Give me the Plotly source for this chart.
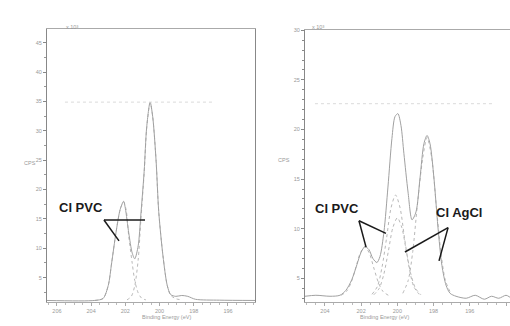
import plotly.graph_objects as go

# ---------------- data (binding energy eV, counts x10^3 CPS) ----------------
# Left panel
left_env_x = [206.6, 203.8, 203.3, 203.0, 202.8, 202.55, 202.3, 202.1, 202.0, 201.8, 201.6,
              201.45, 201.25, 201.1, 200.9, 200.75, 200.55, 200.4, 200.2, 200.05, 199.8,
              199.55, 199.35, 199.05, 198.7, 198.35, 197.9, 196.5, 194.4]
left_env_y = [1.1, 1.1, 1.45, 3.65, 7.5, 12.6, 16.65, 18.0, 16.8, 12.6, 9.2,
              8.2, 10.4, 15.5, 23.1, 30.7, 34.9, 32.4, 24.8, 16.3, 8.7,
              3.65, 2.1, 1.8, 1.95, 1.8, 1.3, 1.15, 1.1]
left_c1_x = [203.8, 203.3, 203.0, 202.8, 202.55, 202.3, 202.1, 201.95, 201.8, 201.6, 201.45, 201.25, 201.05, 200.8]
left_c1_y = [1.1, 1.45, 3.65, 7.5, 12.6, 16.6, 17.9, 16.5, 12.0, 7.5, 4.5, 2.4, 1.5, 1.2]
left_c2_x = [201.9, 201.65, 201.45, 201.25, 201.1, 200.9, 200.75, 200.55, 200.4, 200.2, 200.05, 199.8, 199.55, 199.35, 199.05, 198.7]
left_c2_y = [1.2, 1.8, 3.6, 8.0, 14.5, 22.8, 30.5, 34.8, 32.4, 24.8, 16.3, 8.7, 3.65, 2.0, 1.4, 1.2]

# Right panel
right_env_x = [205.1, 204.5, 203.72, 203.17, 202.84, 202.51, 202.23, 202.01, 201.79, 201.57, 201.35,
               201.13, 200.96, 200.74, 200.52, 200.30, 200.13, 199.97, 199.80, 199.64, 199.41,
               199.19, 198.97, 198.75, 198.53, 198.36, 198.20, 197.98, 197.76, 197.54, 197.31,
               197.09, 196.76, 196.2, 195.7, 195.2, 194.8, 194.4, 194.0, 193.78]
right_env_y = [3.2, 3.3, 3.2, 3.3, 3.8, 4.9, 6.4, 7.6, 8.2, 7.9, 7.0,
               6.6, 7.2, 9.7, 14.2, 19.1, 21.3, 21.6, 20.4, 17.6, 13.7,
               10.9, 11.7, 15.1, 18.6, 19.4, 18.6, 15.1, 10.2, 6.3, 4.3,
               3.5, 3.2, 3.0, 3.3, 2.9, 3.2, 3.0, 3.3, 3.1]
right_pvc1_x = [203.1, 202.8, 202.55, 202.3, 202.05, 201.8, 201.55, 201.3, 201.05, 200.8, 200.5]
right_pvc1_y = [3.3, 3.7, 4.6, 6.05, 7.55, 8.2, 7.55, 6.05, 4.6, 3.7, 3.3]
right_pvc2_x = [201.4, 201.1, 200.85, 200.6, 200.35, 200.1, 199.85, 199.6, 199.35, 199.1, 198.8]
right_pvc2_y = [3.4, 4.2, 6.1, 9.0, 12.1, 13.4, 12.1, 9.0, 6.1, 4.2, 3.4]
right_ag1_x = [201.3, 201.0, 200.75, 200.5, 200.25, 200.0, 199.75, 199.5, 199.25, 199.0, 198.7]
right_ag1_y = [3.35, 4.0, 5.4, 7.7, 10.1, 11.1, 10.1, 7.7, 5.4, 4.0, 3.35]
right_ag2_x = [199.7, 199.4, 199.15, 198.9, 198.6, 198.36, 198.1, 197.85, 197.6, 197.35, 197.05]
right_ag2_y = [3.5, 4.8, 7.7, 12.3, 17.1, 19.2, 17.1, 12.3, 7.7, 4.8, 3.5]

x_ticks_left = [206, 204, 202, 200, 198, 196]
x_ticks_right = [204, 202, 200, 198, 196, 194]
y_ticks_left = [5, 10, 15, 20, 25, 30, 35, 40, 45]
y_ticks_right = [5, 10, 15, 20, 25, 30]

ENV = "#a0a0a0"
COMP = "#b8b8b8"

fig = go.Figure()

def add_line(x, y, ax, dash=None, color=ENV, width=1):
    fig.add_trace(go.Scatter(x=x, y=y, mode="lines", xaxis=ax[0], yaxis=ax[1],
                             line=dict(color=color, width=width, dash=dash, shape="spline", smoothing=0.8),
                             showlegend=False, hoverinfo="skip"))

add_line(left_c1_x, left_c1_y, ("x", "y"), dash="dot", color=COMP)
add_line(left_c2_x, left_c2_y, ("x", "y"), dash="dot", color=COMP)
add_line(left_env_x, left_env_y, ("x", "y"))

for cx, cy in [(right_pvc1_x, right_pvc1_y), (right_pvc2_x, right_pvc2_y),
               (right_ag1_x, right_ag1_y), (right_ag2_x, right_ag2_y)]:
    add_line(cx, cy, ("x2", "y2"), dash="dot", color=COMP)
add_line(right_env_x, right_env_y, ("x2", "y2"))

W, H = 510, 326
def px(v):
    return v / W
def py(v):
    return 1 - v / H

tickfont = dict(size=5.5, color="#999", family="Liberation Sans")
xcommon = dict(showgrid=False, zeroline=False, showline=True, linecolor="#aaa", linewidth=1,
               ticks="outside", ticklen=3, tickcolor="#aaa", tickfont=tickfont,
               minor=dict(ticks="outside", ticklen=2, dtick=0.5, tickcolor="#bbb"))
ycommon = dict(showgrid=False, zeroline=False, showline=True, linecolor="#888", linewidth=1,
               ticks="outside", ticklen=3, tickcolor="#888", tickfont=tickfont)

fig.update_layout(
    width=W, height=H, margin=dict(l=0, r=0, t=0, b=0),
    paper_bgcolor="white", plot_bgcolor="white",
    xaxis=dict(domain=[px(47), px(255)], range=[206.58, 194.42], tickvals=x_ticks_left,
               mirror=True, anchor="y", **xcommon),
    yaxis=dict(domain=[py(302), py(26)], range=[0.8, 47.4], tickvals=y_ticks_left,
               mirror=True, anchor="x",
               minor=dict(ticks="outside", ticklen=2, dtick=2.5, tickcolor="#999"), **ycommon),
    xaxis2=dict(domain=[px(305), 1.0], range=[205.1, 193.78], tickvals=x_ticks_right,
                mirror=True, anchor="y2", **xcommon),
    yaxis2=dict(domain=[py(302), py(27)], range=[2.6, 30.05], tickvals=y_ticks_right,
                mirror=False, anchor="x2",
                minor=dict(ticks="outside", ticklen=2, dtick=1, tickcolor="#888"), **ycommon),
)

small = dict(size=5.5, color="#999", family="Liberation Sans")
ann = [
    dict(x=px(64), y=py(19), text="x 10³", xref="paper", yref="paper", showarrow=False, font=small),
    dict(x=px(318), y=py(19), text="x 10³", xref="paper", yref="paper", showarrow=False, font=small),
    dict(x=px(22), y=py(161), text="CPS", xref="paper", yref="paper", showarrow=False, font=small),
    dict(x=px(284), y=py(158), text="CPS", xref="paper", yref="paper", showarrow=False, font=small),
    dict(x=px(140), y=py(322), text="Binding Energy (eV)", xref="paper", yref="paper", showarrow=False, font=small),
    dict(x=px(411), y=py(322), text="Binding Energy (eV)", xref="paper", yref="paper", showarrow=False, font=small),
]
bold = dict(size=13, color="#1a1a1a", family="Liberation Sans")
ann += [
    dict(x=204.6, y=17.0, xref="x", yref="y", text="<b>Cl PVC</b>", showarrow=False, font=bold),
    dict(x=203.34, y=12.09, xref="x2", yref="y2", text="<b>Cl PVC</b>", showarrow=False, font=bold),
    dict(x=196.6, y=11.6, xref="x2", yref="y2", text="<b>Cl AgCl</b>", showarrow=False, font=bold),
]
fig.update_layout(annotations=ann)

shapes = []
lk = dict(color="#1a1a1a", width=1.5)
for (xr, yr, x0, y0, x1, y1) in [
    ("x", "y", 203.25, 14.8, 200.85, 14.8),
    ("x", "y", 203.25, 14.8, 202.37, 11.25),
    ("x2", "y2", 202.12, 10.81, 200.63, 9.53),
    ("x2", "y2", 202.12, 10.81, 201.73, 8.15),
    ("x2", "y2", 197.2, 10.12, 199.58, 7.66),
    ("x2", "y2", 197.2, 10.12, 197.7, 6.77),
]:
    shapes.append(dict(type="line", xref=xr, yref=yr, x0=x0, y0=y0, x1=x1, y1=y1, line=lk))
# faint dotted reference lines at peak maxima
shapes.append(dict(type="line", xref="x", yref="y", x0=205.53, x1=196.88, y0=34.9, y1=34.9,
                   line=dict(color="#dadada", width=1, dash="dot")))
shapes.append(dict(type="line", xref="x2", yref="y2", x0=204.55, x1=194.77, y0=22.6, y1=22.6,
                   line=dict(color="#dadada", width=1, dash="dot")))
fig.update_layout(shapes=shapes)

fig.write_html("out.html", config={"displayModeBar": False})
# remove the default page margin so the figure sits at the window origin
with open("out.html", "r", encoding="utf-8") as f:
    html = f.read()
html = html.replace("<head>", "<head><style>html,body{margin:0;padding:0;overflow:hidden}</style>", 1)
with open("out.html", "w", encoding="utf-8") as f:
    f.write(html)
